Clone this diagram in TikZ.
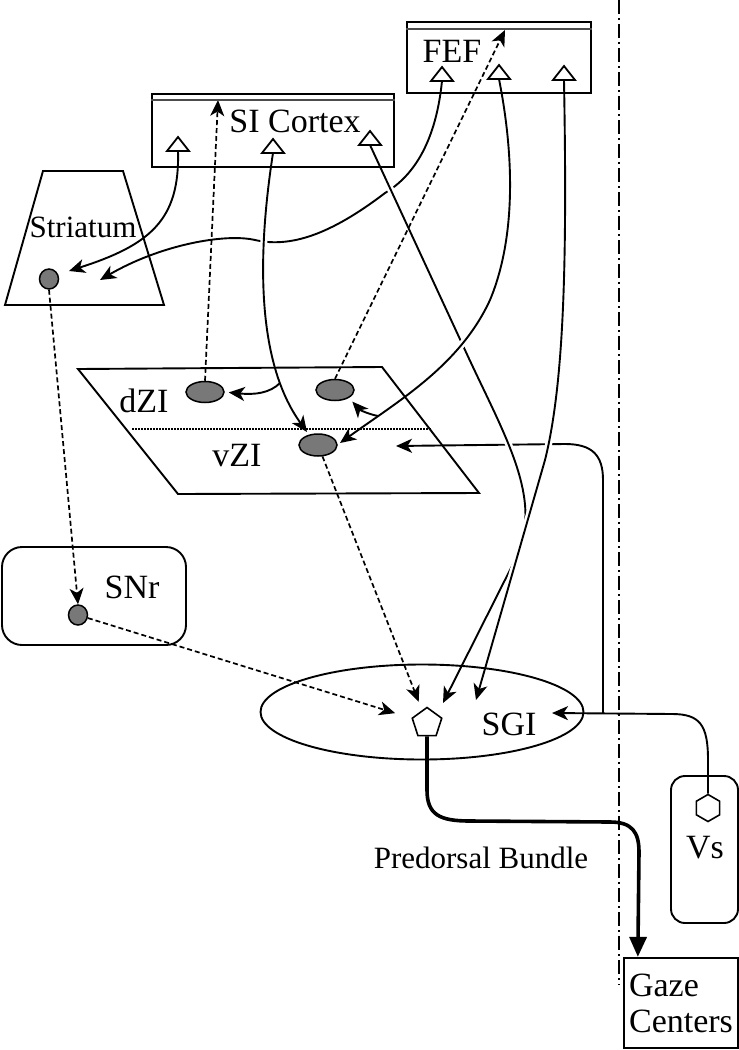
\documentclass[tikz,border=0pt]{standalone}
\usepackage{fontspec}
\setmainfont{Liberation Serif}
\usetikzlibrary{arrows.meta,shapes.geometric,calc}
\pgfdeclarelayer{bg}
\pgfsetlayers{bg,main}
\definecolor{cellgray}{RGB}{120,120,120}
\newcommand\lblfont{\fontsize{34}{36}\selectfont}
\newcommand\smlfont{\fontsize{31}{33}\selectfont}
\newcommand\pyr[3]{\coordinate (#1) at (#2,#3);
  \draw[line width=1.8pt, line join=miter] ({#2-11},#3) -- ({#2+11},#3) -- (#2,{#3-14}) -- cycle;}
\begin{document}
\begin{tikzpicture}[x=1pt,y=-1pt,line width=1.9pt,
  lbl/.style={font=\lblfont, inner sep=0pt, anchor=base},
  cell/.style={draw, ellipse, line width=1.5pt, fill=cellgray, inner sep=0pt, minimum width=38pt, minimum height=21pt},
  scell/.style={cell, minimum width=19pt, minimum height=20pt},
  arr/.style={line width=1.9pt, -{Stealth[length=16pt,width=14pt,inset=4.5pt]}},
  dsh/.style={dash pattern=on 5pt off 3pt, line width=1.7pt},
  hop/.style={preaction={draw=white, line width=7pt, -}},
  pred/.style={line width=3.6pt, -{Triangle[length=20pt,width=17pt]}},
  dashdot/.style={line width=1.6pt, dash pattern=on 14pt off 4pt on 2pt off 4pt},
  cortex/.style={draw, inner sep=0pt}
]
\useasboundingbox (0,0) rectangle (739,1050);

% ---------- cortices ----------
\node[cortex, minimum width=242pt, minimum height=73pt] (si) at (273,130.5) {};
\draw[line width=1.2pt, black!70] ([yshift=-7pt]si.north west) -- ([yshift=-7pt]si.north east);
\node[lbl] (tsi) at (295,132) {SI Cortex};
\node[cortex, minimum width=184pt, minimum height=71pt] (fef) at (499,57.5) {};
\draw[line width=1.2pt, black!70] ([yshift=-8pt]fef.north west) -- ([yshift=-8pt]fef.north east);
\node[lbl] (tfef) at (452,62) {FEF};
\pyr{s1}{178}{151}
\pyr{s2}{273}{153}
\pyr{s3}{370}{145}
\pyr{f1}{442}{81}
\pyr{f2}{499}{79}
\pyr{f3}{564}{80}
\coordinate (sitip) at (218,100);
\coordinate (feftip) at (505,30);

% ---------- striatum ----------
\draw (43,171) -- (123,171) -- (164,305) -- (5,305) -- cycle;
\node[lbl, font=\smlfont] (tstr) at (83,237) {Striatum};
\node[scell] (stn) at (49,279) {};
\coordinate (stin1) at (69,271);
\coordinate (stin2) at (100,280);

% ---------- zona incerta ----------
\draw (78,369) -- (382,367) -- (479,493) -- (178,494) -- cycle;
\draw[line width=1.6pt, dash pattern=on 1.5pt off 1.5pt] (132,429) -- (432,429);
\node[lbl] (tdzi) at (144,412) {dZI};
\node[lbl] (tvzi) at (237,466) {vZI};
\node[cell] (dzl) at (205,392) {};
\node[cell] (dzr) at (335,390) {};
\node[cell, minimum height=22pt] (vzn) at (318,445) {};
\coordinate (vzt) at (307,432);
\coordinate (vzt2) at (340,443);
\coordinate (vzr) at (396,446);
\coordinate (b1) at (280,383);
\coordinate (b2) at (378,416);

% ---------- SNr ----------
\node[draw, rounded corners=20pt, minimum width=184pt, minimum height=98pt] (snr) at (94,596) {};
\node[lbl] (tsnr) at (132,598) {SNr};
\node[scell] (snrn) at (78,615) {};

% ---------- SGI ----------
\node[draw, ellipse, minimum width=323pt, minimum height=95pt] (sgi) at (422,712) {};
\node[lbl] (tsgi) at (509,735) {SGI};
\node[draw, regular polygon, regular polygon sides=5, minimum size=31pt, inner sep=0pt, line width=1.6pt] (pent) at (427,723) {};
\coordinate (sgt1) at (443,703);
\coordinate (sgt2) at (476,700);
\coordinate (sgr) at (552,713);
\coordinate (fb) at (603,713);

% ---------- Vs ----------
\node[draw, rounded corners=14pt, minimum width=67pt, minimum height=147pt] (vs) at (704.5,849.5) {};
\node[lbl] (tvs) at (705,858) {Vs};
\node[draw, fill=white, regular polygon, regular polygon sides=6, shape border rotate=30, minimum size=27pt, inner sep=0pt, line width=1.6pt] (hex) at (708,808) {};

% ---------- Gaze centers ----------
\node[draw, line width=2.3pt, minimum width=114pt, minimum height=90pt, inner sep=0pt, align=left, font=\lblfont] (gaze) at (681,1003) {Gaze\\Centers};
\node[lbl, font=\smlfont] (tpb) at (481,868) {Predorsal Bundle};

% ---------- connectors ----------
\begin{pgfonlayer}{bg}
\fill[white] (0,0) rectangle (739,1050);
\coordinate (dtop) at (619,0);
\coordinate (dbot) at (619,985);
\draw[dashdot] (dtop) -- (dbot);

% under-lines first
\draw[arr] (f1) .. controls (436,140) and (415,175) .. (385,193)
  .. controls (330,235) and (290,248) .. (255,240)
  .. controls (225,233) and (160,245) .. (stin2);
\draw[arr] (fb) -- (603,480) .. controls (603,455) and (592,444) .. (565,444) -- (vzr);

\draw[arr] (s1) .. controls (180,220) and (150,245) .. (stin1);
\draw[arr,hop] (s2) .. controls (258,250) and (255,360) .. (vzt);
\draw[arr,shorten >=4pt] (b1) .. controls (270,393) and (255,395) .. (dzl.east);
\draw[arr,hop] (s3) -- (465,350) .. controls (505,437) and (545,500) .. (515,560) -- (sgt1);
\draw[arr,hop] (f3) .. controls (567,250) and (565,380) .. (545,460) -- (sgt2);
\draw[arr,hop] (f2) .. controls (515,160) and (515,240) .. (490,300)
  .. controls (460,365) and (400,400) .. (vzt2);
\draw[arr,shorten >=5pt] (b2) .. controls (368,414) and (360,410) .. (dzr.south east);

\draw[arr] (hex.north) -- (708,760) .. controls (708,725) and (700,714) .. (672,714) -- (sgr);

\draw[pred] (pent.south) -- (427,790) .. controls (427,815) and (440,821) .. (470,821)
  -- (610,822) .. controls (632,822) and (639,832) .. (639,852) -- ([xshift=15pt]gaze.north west);

% dashed projections
\draw[arr,dsh] (stn.south) -- (snrn.north);
\draw[arr,dsh,shorten >=17pt] (snrn) -- (pent);
\draw[arr,dsh,shorten >=9pt] (vzn) -- (pent);
\draw[arr,dsh] (dzl.north) -- (sitip);
\draw[arr,dsh] (dzr.north) -- (feftip);
\end{pgfonlayer}
\end{tikzpicture}
\end{document}
